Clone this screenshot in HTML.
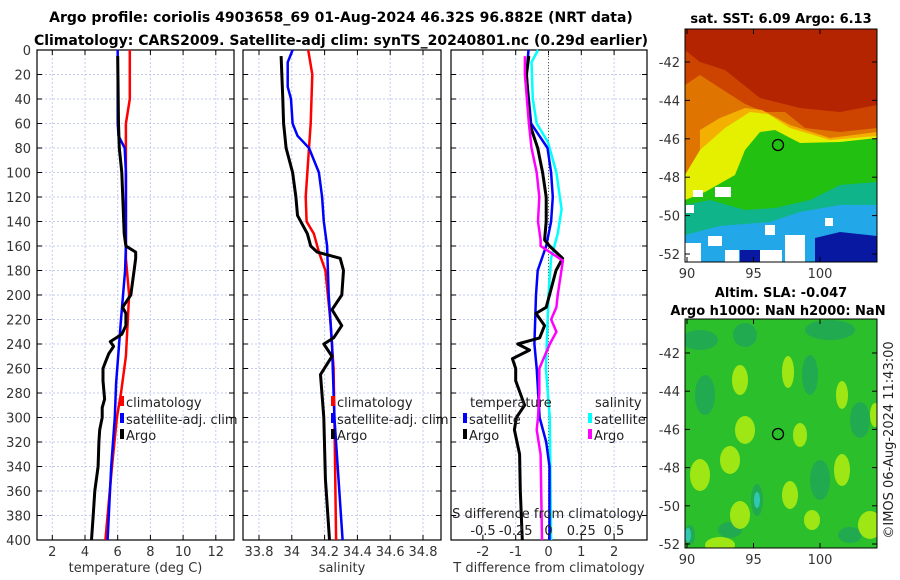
<!DOCTYPE html>
<html><head><meta charset="utf-8"><style>
body{margin:0;background:#fff;width:900px;height:580px;overflow:hidden}
svg{display:block;font-family:"DejaVu Sans","Liberation Sans",sans-serif}
</style></head><body>
<svg id="fig" width="900" height="580" viewBox="0 0 900 580" xmlns="http://www.w3.org/2000/svg">
<text x="341" y="22" text-anchor="middle" font-size="14" font-weight="bold">Argo profile: coriolis 4903658_69 01-Aug-2024 46.32S 96.882E (NRT data)</text>
<text x="341" y="45" text-anchor="middle" font-size="14" font-weight="bold">Climatology: CARS2009. Satellite-adj clim: synTS_20240801.nc (0.29d earlier)</text>
<g id="plots"></g>
<!-- SST map -->
<g>
<text x="781" y="23" text-anchor="middle" font-size="13" font-weight="bold">sat. SST: 6.09 Argo: 6.13</text>
<clipPath id="c1"><rect x="685" y="29" width="192" height="233"/></clipPath>
<g clip-path="url(#c1)">
<rect x="685" y="29" width="192" height="233" fill="#b42400"/>
<polygon fill="#cc4400" points="685,50 700,62 725,70 760,98 800,108 840,112 877,105 877,262 685,262"/>
<polygon fill="#e07400" points="685,85 700,75 720,88 745,104 765,112 785,112 805,128 840,132 877,128 877,262 685,262"/>
<polygon fill="#f4b000" points="700,130 720,118 745,108 762,110 790,125 830,138 877,132 877,262 700,262"/>
<polygon fill="#e4f000" points="700,150 725,128 750,112 768,114 790,128 830,140 877,136 877,262 700,262 685,262 685,175"/>
<polygon fill="#22c010" points="735,175 745,150 760,132 775,130 800,143 840,142 877,138 877,262 685,262 685,200 705,192"/>
<polygon fill="#10b48a" points="685,205 710,200 745,210 775,208 810,200 840,185 877,182 877,262 685,262"/>
<polygon fill="#22a8e8" points="685,235 720,226 770,222 800,212 840,205 877,205 877,262 685,262"/>
<polygon fill="#0818a0" points="815,238 840,232 877,236 877,262 815,262"/>
<rect x="740" y="250" width="20" height="12" fill="#0818a0"/>
<rect x="685" y="243" width="16" height="19" fill="#fff"/>
<rect x="708" y="236" width="14" height="10" fill="#fff"/>
<rect x="725" y="250" width="14" height="12" fill="#fff"/>
<rect x="693" y="190" width="10" height="7" fill="#fff"/>
<rect x="715" y="187" width="16" height="10" fill="#fff"/>
<rect x="686" y="205" width="8" height="8" fill="#fff"/>
<rect x="765" y="225" width="10" height="10" fill="#fff"/>
<rect x="785" y="235" width="20" height="27" fill="#fff"/>
<rect x="760" y="250" width="22" height="12" fill="#fff"/>
<rect x="825" y="218" width="8" height="8" fill="#fff"/>
</g>
<rect x="685" y="29" width="192" height="233" fill="none" stroke="#000"/>
<circle cx="778" cy="145" r="5.5" fill="none" stroke="#000" stroke-width="1.3"/>
</g>
<!-- SLA map -->
<g>
<text x="781" y="297" text-anchor="middle" font-size="13" font-weight="bold">Altim. SLA: -0.047</text>
<text x="778" y="315" text-anchor="middle" font-size="13" font-weight="bold">Argo h1000: NaN h2000: NaN</text>
<clipPath id="c2"><rect x="685" y="319" width="192" height="229"/></clipPath>
<g clip-path="url(#c2)">
<rect x="685" y="319" width="192" height="229" fill="#2cbf2c"/>
<g fill="#1ea45c" opacity="0.75">
<ellipse cx="700" cy="340" rx="18" ry="10"/><ellipse cx="745" cy="335" rx="12" ry="12"/><ellipse cx="830" cy="330" rx="25" ry="10"/>
<ellipse cx="705" cy="395" rx="10" ry="20"/><ellipse cx="810" cy="375" rx="8" ry="20"/><ellipse cx="860" cy="420" rx="10" ry="18"/>
<ellipse cx="820" cy="480" rx="10" ry="20"/><ellipse cx="757" cy="500" rx="6" ry="16"/><ellipse cx="730" cy="530" rx="12" ry="8"/>
<ellipse cx="690" cy="535" rx="5" ry="10"/><ellipse cx="850" cy="535" rx="12" ry="8"/>
</g>
<ellipse cx="757" cy="500" rx="3" ry="8" fill="#30c8b0"/>
<ellipse cx="688" cy="535" rx="3" ry="7" fill="#30c8b0"/>
<g fill="#b4ee10" opacity="0.85">
<ellipse cx="740" cy="380" rx="8" ry="15"/><ellipse cx="788" cy="372" rx="6" ry="16"/><ellipse cx="842" cy="395" rx="6" ry="14"/>
<ellipse cx="745" cy="430" rx="10" ry="14"/><ellipse cx="800" cy="435" rx="7" ry="12"/><ellipse cx="730" cy="460" rx="10" ry="14"/>
<ellipse cx="700" cy="475" rx="10" ry="16"/><ellipse cx="790" cy="495" rx="8" ry="14"/><ellipse cx="842" cy="470" rx="8" ry="16"/>
<ellipse cx="740" cy="515" rx="10" ry="14"/><ellipse cx="870" cy="525" rx="12" ry="14"/><ellipse cx="875" cy="415" rx="5" ry="12"/>
<ellipse cx="720" cy="545" rx="15" ry="8"/><ellipse cx="812" cy="520" rx="8" ry="10"/>
</g>
</g>
<rect x="685" y="319" width="192" height="229" fill="none" stroke="#000"/>
<circle cx="778" cy="434" r="5.5" fill="none" stroke="#000" stroke-width="1.3"/>
</g>
<g id="maps-axes"></g>
<text transform="translate(893,440) rotate(-90)" text-anchor="middle" font-size="13" fill="#222">©IMOS 06-Aug-2024 11:43:00</text>
</svg>
<script>
// ---------- data ----------
const yTicks=[0,20,40,60,80,100,120,140,160,180,200,220,240,260,280,300,320,340,360,380,400];
const tTicks=[2,4,6,8,10,12];
const sTicks=[33.8,34,34.2,34.4,34.6,34.8];
const dTTicks=[-2,-1,0,1,2];
const dSTicks=[-0.5,-0.25,0,0.25,0.5];
const dSTickLabels=["-0.5","-0.25","0","0.25","0.5"];

const tClimP=[0,40,60,80,170,200,250,280,300,340,400];
const tClimV=[6.74,6.74,6.5,6.5,6.5,6.7,6.5,6.2,5.95,5.65,5.25];
const tSatP=[0,60,70,80,100,160,180,220,272,300,340,400];
const tSatV=[6.0,6.0,6.05,6.43,6.5,6.5,6.45,6.2,5.9,5.82,5.6,5.38];
const tArgoP=[5,60,80,100,150,160,165,170,180,200,210,215,225,232,238,242,248,255,260,270,285,292,300,310,320,340,360,380,400];
const tArgoV=[6.0,6.05,6.1,6.25,6.4,6.5,7.1,7.1,7.0,6.8,6.3,6.5,6.5,6.25,5.55,5.75,5.45,5.24,5.1,5.1,5.2,5.05,5.05,4.9,4.85,4.8,4.6,4.5,4.4];

const sClimP=[0,20,60,80,120,140,150,165,180,220,260,300,400];
const sClimV=[34.10,34.125,34.115,34.105,34.085,34.09,34.135,34.165,34.205,34.235,34.255,34.26,34.27];
const sSatP=[0,10,30,40,60,70,80,100,120,140,160,200,240,300,400];
const sSatV=[34.005,33.975,33.975,33.995,34.005,34.035,34.105,34.165,34.185,34.195,34.215,34.225,34.245,34.26,34.31];
const sArgoP=[5,40,60,80,100,120,135,150,160,165,170,180,200,212,225,235,240,250,265,300,350,400];
const sArgoV=[33.935,33.945,33.95,33.965,34.005,34.025,34.035,34.095,34.115,34.155,34.295,34.315,34.305,34.245,34.305,34.255,34.195,34.245,34.175,34.195,34.205,34.23];

const dTSatP=[0,20,60,80,100,120,140,160,180,200,240,260,300,320,340,400];
const dTSatV=[-0.61,-0.67,-0.53,-0.03,0.08,0.13,0.08,-0.07,-0.33,-0.38,-0.43,-0.36,-0.27,-0.07,0.03,0.03];
const dTArgoP=[5,20,60,80,100,120,140,155,160,170,180,200,210,215,225,235,240,245,252,260,270,290,300,310,330,360,400];
const dTArgoV=[-0.6,-0.67,-0.58,-0.33,-0.18,-0.07,-0.07,-0.12,0.03,0.43,0.23,0.03,-0.07,-0.38,-0.12,-0.27,-0.94,-0.58,-1.1,-1.0,-1.0,-0.73,-0.98,-1.04,-0.88,-0.86,-0.8];
const dSSatP=[0,10,40,60,75,100,130,150,170,200,260,300,400];
const dSSatV=[-0.08,-0.13,-0.12,-0.09,-0.005,0.06,0.1,0.07,0.02,0,-0.02,0.01,0.02];
const dSArgoP=[5,20,60,80,100,120,140,155,160,165,172,200,210,220,230,240,260,280,300,310,330,400];
const dSArgoV=[-0.18,-0.18,-0.15,-0.13,-0.09,-0.07,-0.08,-0.06,-0.06,0.01,0.11,0.07,0.06,0.02,0.06,0.01,-0.07,-0.07,-0.08,-0.09,-0.06,-0.05];

const latTicks=[-42,-44,-46,-48,-50,-52];
const lonTicks=[90,95,100];

// ---------- helpers ----------
const NS="http://www.w3.org/2000/svg";
const plots=document.getElementById('plots');
function el(tag,attrs,parent){const e=document.createElementNS(NS,tag);for(const k in attrs)e.setAttribute(k,attrs[k]);(parent||plots).appendChild(e);return e;}
const Y0=50,Y1=540;
function yP(p){return Y0+(p/400)*(Y1-Y0);}
const xT=v=>19.6+16.35*v;
const xS=v=>259+(v-33.8)*164;
const xDT=v=>548.5+32.8*v;
const xDS=v=>548.5+131*v;

function panel(name,x0,x1,ticks,labels,xf,xlabel,yLabels){
  const g=el('g',{});
  
  
  yTicks.forEach(p=>{const l=el('line',{x1:x0,x2:x1,y1:yP(p),y2:yP(p),stroke:'#c4cbef','stroke-width':1,'stroke-dasharray':'2,2'},g);});
  ticks.forEach(t=>{const l=el('line',{x1:xf(t),x2:xf(t),y1:Y0,y2:Y1,stroke:'#c4cbef','stroke-width':1,'stroke-dasharray':'2,2'},g);});
  yTicks.forEach(p=>{
    el('line',{x1:x0,x2:x0+5,y1:yP(p),y2:yP(p),stroke:'#000'},g);
    el('line',{x1:x1-5,x2:x1,y1:yP(p),y2:yP(p),stroke:'#000'},g);
    if(yLabels){const t=el('text',{x:x0-6,y:yP(p)+5,'text-anchor':'end','font-size':13,fill:'#333'},g);t.textContent=p;
      }
  });
  ticks.forEach((t,i)=>{
    el('line',{x1:xf(t),x2:xf(t),y1:Y1,y2:Y1-5,stroke:'#000'},g);
    el('line',{x1:xf(t),x2:xf(t),y1:Y0,y2:Y0+5,stroke:'#000'},g);
    const tx=el('text',{x:xf(t),y:556,'text-anchor':'middle','font-size':13,fill:'#333'},g);tx.textContent=labels[i];
    
  });
  const fr=el('rect',{x:x0,y:Y0,width:x1-x0,height:Y1-Y0,fill:'none',stroke:'#000','stroke-width':1.2},g);
  
  const xl=el('text',{x:(x0+x1)/2,y:572,'text-anchor':'middle','font-size':13,fill:'#333'},g);xl.textContent=xlabel;
  
  return g;
}
function line(g,name,P,V,xf,color,w){
  const pts=P.map((p,i)=>xf(V[i]).toFixed(1)+','+yP(p).toFixed(1)).join(' ');
  const l=el('polyline',{points:pts,fill:'none',stroke:color,'stroke-width':w,'stroke-linejoin':'round'},g);
  
  
}
function legend(g,x,y,color,txt,name){
  const r=el('rect',{x:x,y:y-11,width:4,height:10,fill:color},g);
  
  const t=el('text',{x:x+6,y:y,'font-size':13,fill:'#222'},g);t.textContent=txt;
  
}

// Panel 1
const g1=panel('temperature-panel',37,234,tTicks,tTicks.map(String),xT,'temperature (deg C)',true);
line(g1,'temperature-climatology-line',tClimP,tClimV,xT,'#f00',2.5);
line(g1,'temperature-satellite-line',tSatP,tSatV,xT,'#00f',2.5);
line(g1,'temperature-argo-line',tArgoP,tArgoV,xT,'#000',3);
legend(g1,120,407,'#f00','climatology','legend-climatology');
legend(g1,120,424,'#00f','satellite-adj. clim','legend-satellite');
legend(g1,120,440,'#000','Argo','legend-argo');

// Panel 2
const g2=panel('salinity-panel',243,441,sTicks,sTicks.map(String),xS,'salinity',false);
line(g2,'salinity-climatology-line',sClimP,sClimV,xS,'#f00',2.5);
line(g2,'salinity-satellite-line',sSatP,sSatV,xS,'#00f',2.5);
line(g2,'salinity-argo-line',sArgoP,sArgoV,xS,'#000',3);
legend(g2,331,407,'#f00','climatology','legend-climatology');
legend(g2,331,424,'#00f','satellite-adj. clim','legend-satellite');
legend(g2,331,440,'#000','Argo','legend-argo');

// Panel 3
const g3=panel('difference-panel',451,647,dTTicks,dTTicks.map(String),xDT,'T difference from climatology',false);
const z=el('line',{x1:xDT(0),x2:xDT(0),y1:Y0,y2:Y1,stroke:'#556b2f','stroke-width':1,'stroke-dasharray':'1,2'},g3);

line(g3,'salinity-satellite-diff-line',dSSatP,dSSatV,xDS,'#0ff',2.5);
line(g3,'temperature-satellite-diff-line',dTSatP,dTSatV,xDT,'#00f',2.5);
line(g3,'temperature-argo-diff-line',dTArgoP,dTArgoV,xDT,'#000',3);
line(g3,'salinity-argo-diff-line',dSArgoP,dSArgoV,xDS,'#f0f',2.5);
let t1=el('text',{x:470,y:407,'font-size':13,fill:'#222'},g3);t1.textContent='temperature';

let t2=el('text',{x:595,y:407,'font-size':13,fill:'#222'},g3);t2.textContent='salinity';

legend(g3,463,424,'#00f','satellite','legend-temp-satellite');
legend(g3,463,440,'#000','Argo','legend-temp-argo');
legend(g3,588,424,'#0ff','satellite','legend-sal-satellite');
legend(g3,588,440,'#f0f','Argo','legend-sal-argo');
let st=el('text',{x:548,y:518,'text-anchor':'middle','font-size':13,fill:'#222'},g3);st.textContent='S difference from climatology';

dSTicks.forEach((v,i)=>{const t=el('text',{x:xDS(v),y:535,'text-anchor':'middle','font-size':13,fill:'#222'},g3);t.textContent=dSTickLabels[i];
  });

// Map axes
const ma=document.getElementById('maps-axes');
function mapAxes(top,bot,lat42,lat52){
  const latY=v=>lat42+(v+42)/(-10)*(lat52-lat42);
  latTicks.forEach(v=>{
    el('line',{x1:877,x2:872,y1:latY(v),y2:latY(v),stroke:'#000'},ma);
    el('line',{x1:685,x2:690,y1:latY(v),y2:latY(v),stroke:'#000'},ma);
    const t=el('text',{x:680,y:latY(v)+5,'text-anchor':'end','font-size':13,fill:'#333'},ma);t.textContent=v;
    
  });
  const lonX=v=>687+(v-90)*13.3;
  lonTicks.forEach(v=>{
    el('line',{x1:lonX(v),x2:lonX(v),y1:bot,y2:bot-5,stroke:'#000'},ma);
    el('line',{x1:lonX(v),x2:lonX(v),y1:top,y2:top+5,stroke:'#000'},ma);
    const t=el('text',{x:lonX(v),y:bot+16,'text-anchor':'middle','font-size':13,fill:'#333'},ma);t.textContent=v;
    
  });
}
mapAxes(29,262,62,254);
mapAxes(319,548,353,544);
</script>
</body></html>
